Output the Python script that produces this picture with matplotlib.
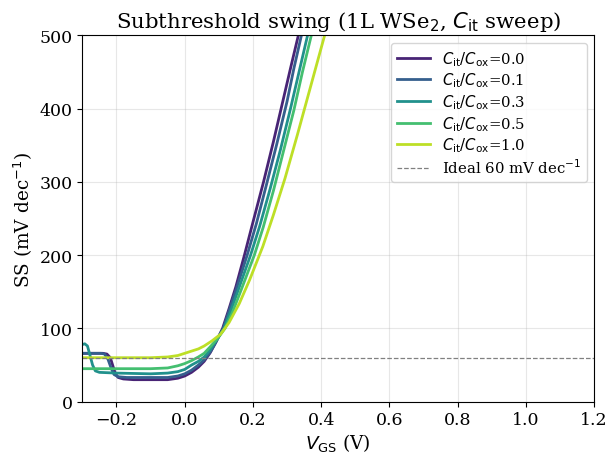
import matplotlib
matplotlib.use("Agg")
import matplotlib.pyplot as plt
import numpy as np

plt.rcParams['font.family'] = 'DejaVu Serif'

# C_it / C_ox ratios
ratios = [0.0, 0.1, 0.3, 0.5, 1.0]

# SS curves (V_GS in V, SS in mV/dec)
v_00 = [-0.30, -0.24, -0.228, -0.218, -0.21, -0.203, -0.195, -0.18, -0.15, -0.1, -0.05, -0.02, 0.0,
        0.02, 0.04, 0.057, 0.075, 0.09, 0.111, 0.13, 0.15, 0.175, 0.2, 0.231, 0.26, 0.29, 0.31, 0.333, 0.345]
ss_00 = [66, 66, 65, 60, 48, 38, 33, 31, 30, 30, 30, 32, 35,
         40, 47, 55, 67, 80, 100, 127, 157, 200, 245, 300, 355, 415, 455, 500, 525]

v_01 = [-0.30, -0.245, -0.235, -0.225, -0.215, -0.207, -0.195, -0.17, -0.1, -0.05, -0.02, 0.0,
        0.02, 0.04, 0.057, 0.075, 0.09, 0.113, 0.13, 0.15, 0.183, 0.21, 0.24, 0.27, 0.30, 0.32, 0.342, 0.355]
ss_01 = [66, 66, 65, 58, 45, 37, 34, 33, 33, 33, 35, 38,
         43, 50, 57, 68, 80, 100, 124, 152, 200, 243, 297, 352, 410, 455, 500, 525]

v_03 = [-0.30, -0.293, -0.285, -0.278, -0.27, -0.262, -0.25, -0.2, -0.1, -0.05, -0.02, 0.0,
        0.02, 0.04, 0.057, 0.075, 0.09, 0.115, 0.135, 0.155, 0.193, 0.22, 0.25, 0.28, 0.31, 0.335, 0.36, 0.372]
ss_03 = [78, 79, 76, 64, 50, 42, 40, 39, 38, 39, 41, 44,
         50, 55, 61, 71, 82, 100, 124, 150, 200, 240, 290, 343, 400, 450, 500, 522]

v_05 = [-0.30, -0.2, -0.1, -0.05, -0.02, 0.0, 0.02, 0.04, 0.057, 0.075, 0.096, 0.118,
        0.14, 0.165, 0.204, 0.23, 0.26, 0.29, 0.32, 0.345, 0.371, 0.385]
ss_05 = [45, 45, 45, 46, 49, 52, 56, 61, 66, 75, 86, 100,
         122, 152, 200, 238, 288, 343, 398, 450, 500, 525]

v_10 = [-0.30, -0.2, -0.1, -0.05, -0.02, 0.0, 0.02, 0.04, 0.057, 0.08, 0.105, 0.13,
        0.16, 0.19, 0.229, 0.26, 0.294, 0.33, 0.37, 0.41, 0.425]
ss_10 = [60, 60, 60, 61, 63, 66, 69, 72, 76, 83, 92, 108,
         134, 166, 212, 255, 305, 364, 432, 500, 525]

vgs = [v_00, v_01, v_03, v_05, v_10]
ss = [ss_00, ss_01, ss_03, ss_05, ss_10]

colors = plt.cm.viridis(np.linspace(0.1, 0.9, len(ratios)))

fig = plt.figure(figsize=(6.1, 4.56), dpi=100)
ax = fig.add_axes([0.135, 0.117, 0.839, 0.803])

for r, x, y, c in zip(ratios, vgs, ss, colors):
    ax.plot(x, y, color=c, lw=2, label=r"$C_{\rm it}/C_{\rm ox}$=%.1f" % r)

ax.axhline(60, color='gray', ls='--', lw=0.9, label=r"Ideal 60 mV dec$^{-1}$")

ax.set_xlim(-0.3, 1.2)
ax.set_ylim(0, 500)
ax.set_xlabel(r"$V_{\rm GS}$ (V)", fontsize=13.3, labelpad=2)
ax.set_ylabel(r"SS (mV dec$^{-1}$)", fontsize=13.3)
ax.set_title(r"Subthreshold swing (1L WSe$_2$, $C_{\rm it}$ sweep)", fontsize=15.3)
ax.tick_params(labelsize=12.5)
ax.grid(True, alpha=0.3)
ax.legend(loc='upper right', fontsize=10.7, labelspacing=0.2, handlelength=2.2)

fig.savefig("out.png", dpi=100)
